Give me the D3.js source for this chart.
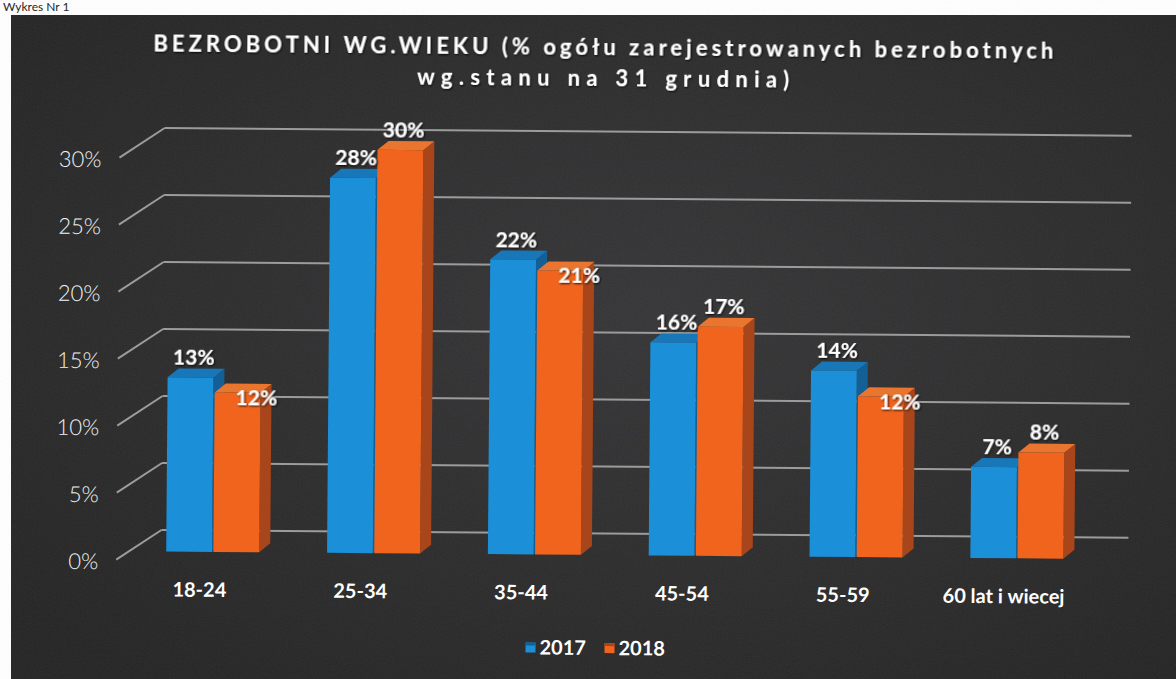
<!DOCTYPE html>
<html>
<head>
<meta charset="utf-8">
<script src="https://cdn.jsdelivr.net/npm/d3@7"></script>
<style>
    body { margin: 0; background: #fff; }
    svg { display: block; }
    text { font-family: Lato, "Open Sans", sans-serif; }
</style>
</head>
<body>
<div id="chart"></div>
<script>
// chart values
const categories = ["18-24", "25-34", "35-44", "45-54", "55-59", "60 lat i wiecej"];
const series = ["2017", "2018"];
const values2017 = [13.0, 28.0, 22.0, 15.9, 13.9, 6.8];
const values2018 = [11.9, 30.1, 21.2, 17.1, 12.0, 7.9];
const yTicks = [0, 5, 10, 15, 20, 25, 30];
const titleLines = ["BEZROBOTNI WG.WIEKU (% ogółu zarejestrowanych bezrobotnych", "wg.stanu na 31 grudnia)"];
const pageCaption = "Wykres Nr 1";

const width = 1176, height = 679;
const colors = {
    "2017": {front: "#1b8fd8", top: "#1877b8", side: "#145f95"},
    "2018": {front: "#f0641e", top: "#e9752f", side: "#a9451a"}
};

const svg = d3.select("#chart").append("svg")
    .attr("width", width)
    .attr("height", height);

const defs = svg.append("defs");
const bg = defs.append("radialGradient").attr("id", "bg")
    .attr("cx", "55%").attr("cy", "45%").attr("r", "70%");
bg.append("stop").attr("offset", "0%").attr("stop-color", "#353537");
bg.append("stop").attr("offset", "100%").attr("stop-color", "#242424");

const grain = defs.append("filter").attr("id", "grain");
grain.append("feTurbulence").attr("type", "fractalNoise").attr("baseFrequency", 0.9).attr("numOctaves", 2).attr("result", "n");
grain.append("feColorMatrix").attr("type", "saturate").attr("values", 0);
grain.append("feComponentTransfer").append("feFuncA").attr("type", "linear").attr("slope", 0.08);

const shadow = defs.append("filter").attr("id", "shadow")
    .attr("x", "-10%").attr("y", "-20%").attr("width", "120%").attr("height", "140%");
shadow.append("feDropShadow").attr("dx", 1).attr("dy", 1).attr("stdDeviation", 1)
    .attr("flood-color", "#000").attr("flood-opacity", 0.9);

// page bits around the scanned chart
svg.append("text")
    .attr("x", 3).attr("y", 11)
    .attr("font-size", 12)
    .attr("fill", "#222")
    .text(pageCaption);

svg.append("rect")
    .attr("x", 11).attr("y", 15)
    .attr("width", width - 11).attr("height", height - 15)
    .attr("fill", "url(#bg)");
svg.append("rect")
    .attr("x", 11).attr("y", 15)
    .attr("width", width - 11).attr("height", height - 15)
    .attr("filter", "url(#grain)");

// the scan is turned a little clockwise
const g = svg.append("g").attr("transform", "rotate(0.46, 600, 340)");

// scales
const yFront = d3.scaleLinear().domain([0, 30]).range([555, 153]);
const yBack = d3.scaleLinear().domain([0, 30]).range([533.5, 131.5]);
const x = d3.scaleBand().domain(categories).range([134, 1099]);
const xs = d3.scaleBand().domain(series).range([0, 93]).paddingInner(0.03);
const groupStart = c => x(c) + x.bandwidth() / 2 - 46.5;
const depth = {dx: 11, dy: -9};
const wallLeft = 163, wallRight = 1130, floorDx = -45, floorDy = 30;

// title
g.selectAll(".title")
    .data(titleLines)
    .join("text")
    .attr("class", "title")
    .attr("x", 601)
    .attr("y", (d, i) => 55 + i * 31)
    .attr("text-anchor", "middle")
    .attr("textLength", (d, i) => i === 0 ? 900 : 372)
    .attr("lengthAdjust", "spacing")
    .attr("font-size", 22)
    .attr("font-weight", 700)
    .attr("fill", "#fff")
    .attr("filter", "url(#shadow)")
    .text(d => d);

// back wall grid + floor diagonals
const grid = g.append("g").attr("class", "grid");
grid.selectAll(".wall")
    .data(yTicks)
    .join("line")
    .attr("x1", wallLeft).attr("x2", wallRight)
    .attr("y1", d => yBack(d)).attr("y2", d => yBack(d))
    .attr("stroke", "#9c9c9c").attr("stroke-width", 2);
grid.selectAll(".side")
    .data(yTicks)
    .join("line")
    .attr("x1", wallLeft + floorDx).attr("y1", d => yBack(d) + floorDy)
    .attr("x2", wallLeft).attr("y2", d => yBack(d))
    .attr("stroke", "#9c9c9c").attr("stroke-width", 2);

g.selectAll(".ytick")
    .data(yTicks)
    .join("text")
    .attr("class", "ytick")
    .attr("x", 100)
    .attr("y", d => yBack(d) + floorDy + 2)
    .attr("dy", "0.35em")
    .attr("text-anchor", "end")
    .attr("font-size", 22)
    .attr("font-weight", 300)
    .attr("fill", "#f2f2f2")
    .text(d => d + "%");

// bars
const rows = categories.map((c, i) => ({cat: c, vals: [values2017[i], values2018[i]]}));
const bars = [];
rows.forEach(r => series.forEach((s, j) => bars.push({cat: r.cat, series: s, value: r.vals[j], other: r.vals[1 - j]})));

bars.forEach(b => {
    b.x0 = groupStart(b.cat) + xs(b.series);
    b.x1 = b.x0 + xs.bandwidth();
    b.yT = yFront(b.value);
    b.yB = yFront(0);
});

const barG = g.append("g").attr("class", "bars");
const bar = barG.selectAll("g").data(bars).join("g");

bar.append("polygon")
    .attr("points", d => [[d.x1, d.yB], [d.x1 + depth.dx, d.yB + depth.dy], [d.x1 + depth.dx, d.yT + depth.dy], [d.x1, d.yT]].join(" "))
    .attr("fill", d => colors[d.series].side);
bar.append("polygon")
    .attr("points", d => [[d.x0, d.yT], [d.x0 + depth.dx, d.yT + depth.dy], [d.x1 + depth.dx, d.yT + depth.dy], [d.x1, d.yT]].join(" "))
    .attr("fill", d => colors[d.series].top);
bar.append("rect")
    .attr("x", d => d.x0).attr("y", d => d.yT)
    .attr("width", d => d.x1 - d.x0).attr("height", d => d.yB - d.yT)
    .attr("fill", d => colors[d.series].front);

// value labels: 2018 labels sit on the bar corner when lower than 2017
g.selectAll(".vlabel")
    .data(bars)
    .join("text")
    .attr("class", "vlabel")
    .attr("x", d => (d.series === "2018" && d.value < d.other) ? d.x1 - 4 : (d.x0 + d.x1) / 2 + 3)
    .attr("y", d => (d.series === "2018" && d.value < d.other) ? d.yT + 5 : d.yT - 20)
    .attr("dy", "0.35em")
    .attr("text-anchor", "middle")
    .attr("font-size", 21)
    .attr("font-weight", 700)
    .attr("fill", "#fff")
    .attr("filter", "url(#shadow)")
    .text(d => Math.round(d.value) + "%");

// category labels
g.selectAll(".xlabel")
    .data(categories)
    .join("text")
    .attr("class", "xlabel")
    .attr("x", d => x(d) + x.bandwidth() / 2 - 13)
    .attr("y", 593)
    .attr("dy", "0.35em")
    .attr("text-anchor", "middle")
    .attr("font-size", 20)
    .attr("font-weight", 700)
    .attr("fill", "#fff")
    .text(d => d);

// legend
const legend = g.append("g").attr("class", "legend")
    .selectAll("g")
    .data(series)
    .join("g")
    .attr("transform", (d, i) => `translate(${528 + i * 79}, 648)`);
legend.append("rect")
    .attr("x", 0).attr("y", -5)
    .attr("width", 10).attr("height", 10)
    .attr("fill", d => colors[d].front);
legend.append("rect")
    .attr("x", 0).attr("y", -5)
    .attr("width", 10).attr("height", 3)
    .attr("fill", d => colors[d].side);
legend.append("text")
    .attr("x", 14).attr("y", 0)
    .attr("dy", "0.35em")
    .attr("font-size", 20)
    .attr("font-weight", 700)
    .attr("fill", "#fff")
    .text(d => d);
</script>
</body>
</html>
